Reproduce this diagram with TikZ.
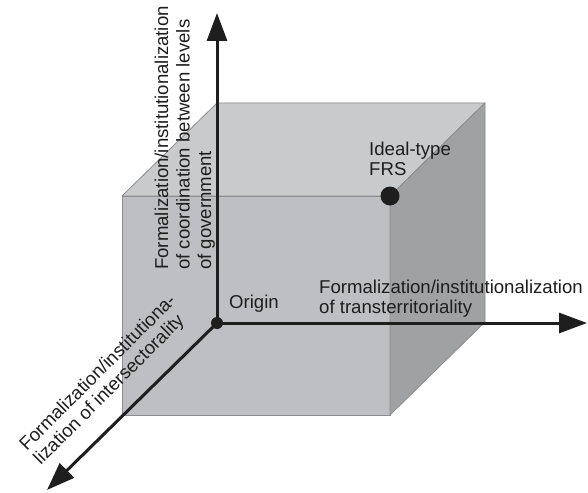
\documentclass[tikz,border=0pt]{standalone}
\usepackage{fontspec}
\setmainfont{Liberation Sans}
\usetikzlibrary{arrows.meta}
\definecolor{frontc}{RGB}{190,191,194}
\definecolor{topc}{RGB}{201,202,204}
\definecolor{sidec}{RGB}{160,161,163}
\definecolor{edgec}{RGB}{140,140,142}
\definecolor{inkc}{RGB}{30,30,30}
\begin{document}
\begin{tikzpicture}[x=1pt,y=-1pt,
  face/.style={draw=edgec, line width=0.8pt, line join=round},
  axisline/.style={draw=inkc, line width=3pt, -{Triangle[length=28pt,width=20pt]}},
  lbl/.style={text=inkc, font=\fontsize{18.6}{20}\selectfont, inner sep=0pt, align=left, anchor=north west},
  dotnode/.style={circle, fill=inkc, inner sep=0pt, minimum size=#1}]
\useasboundingbox (0,0) rectangle (588,492);
\fill[white] (0,0) rectangle (588,492);
% cube corners
\coordinate (ftl) at (122,196);
\coordinate (ftr) at (390,196);
\coordinate (fbr) at (390,415);
\coordinate (fbl) at (122,415);
\coordinate (btl) at (217,103);
\coordinate (btr) at (485,103);
\coordinate (bbr) at (485,322);
% faces
\filldraw[face, fill=frontc] (ftl) -- (ftr) -- (fbr) -- (fbl) -- cycle;
\filldraw[face, fill=topc] (ftl) -- (btl) -- (btr) -- (ftr) -- cycle;
\filldraw[face, fill=sidec] (ftr) -- (btr) -- (bbr) -- (fbr) -- cycle;
% points
\node[dotnode=12pt] (origin) at (217,323) {};
\node[dotnode=19pt] (ideal) at (390,196) {};
% axis ends
\coordinate (ytip) at (217,13);
\coordinate (xtip) at (587,323);
\coordinate (ztip) at (47,490);
\draw[axisline] (origin.center) -- (ytip);
\draw[axisline] (origin.center) -- (xtip);
\draw[axisline] (origin.center) -- (ztip);
% labels
\node[lbl] (idlab) at (369,141.5) {Ideal-type\\FRS};
\node[lbl] (orlab) at (229,294.5) {Origin};
\node[lbl] (xlab) at (319,279.5) {Formalization/institutionalization\\of transterritoriality};
\node[lbl, rotate=90, font=\fontsize{18.6}{21.5}\selectfont] (ylab) at (154.5,270) {Formalization/institutionalization\\of coordination between levels\\of government};
\node[lbl, rotate=45] (zlab) at (17,442) {Formalization/institutiona-\\lization of intersectorality};
\end{tikzpicture}
\end{document}
